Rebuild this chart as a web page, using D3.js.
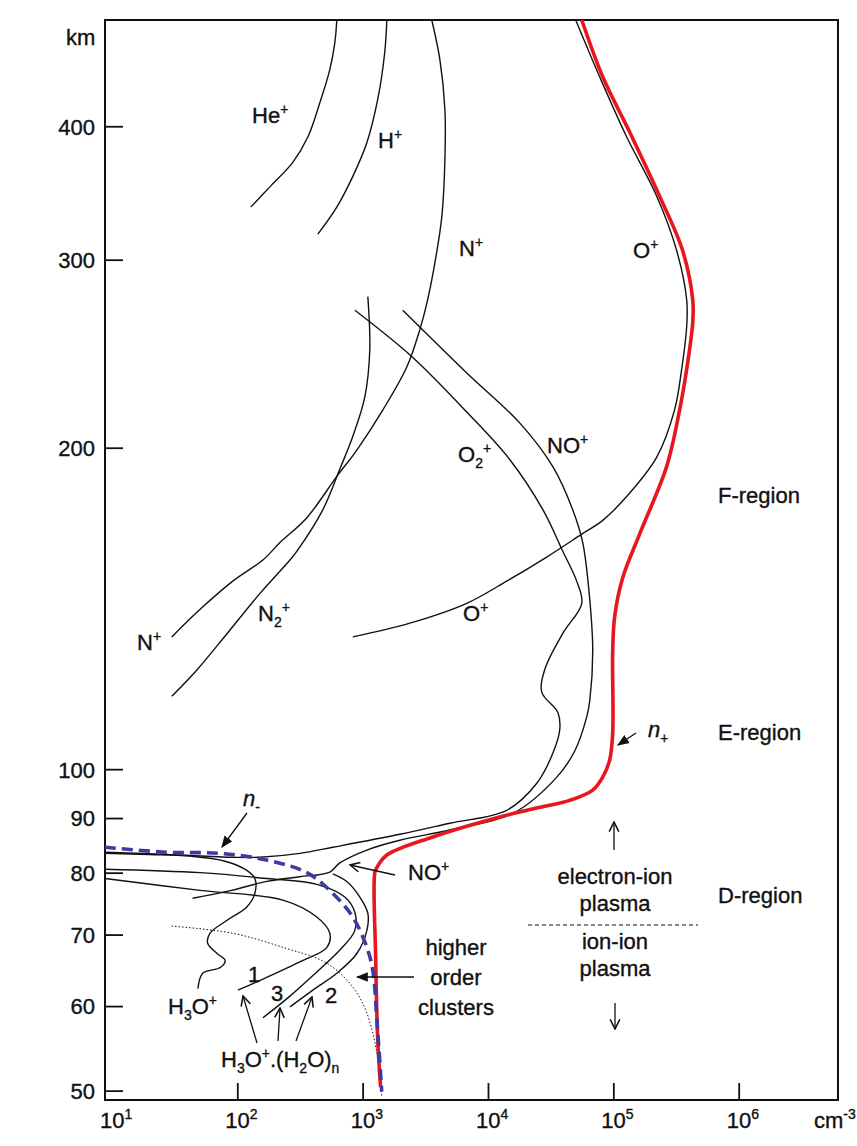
<!DOCTYPE html>
<html><head><meta charset="utf-8">
<script src="https://cdn.jsdelivr.net/npm/d3@7"></script>
<style>
html,body{margin:0;padding:0;background:#fff;}
svg text{font-family:"Liberation Sans",Arial,Helvetica,sans-serif;fill:#111;stroke:#111;stroke-width:0.35px;}
</style></head><body>
<svg id="chart" width="857" height="1146"></svg>
<script>
// Ion number density profiles: [density cm^-3, altitude km]
const heIon = [[622,503],[600,479],[547,452],[456,421],[366,391],[277,370],[182,351],[128,336]];
const hIon = [[1560,503],[1500,469],[1320,424],[1080,386],[835,359],[622,336],[439,317]];
const nIon = [[3560,503],[4130,462],[4530,415],[4530,372],[4280,329],[3770,298],[3250,273],[2860,258],[2250,238],[1450,217],[899,199],[622,188],[359,172],[219,163],[160,157],[92,150],[50,141],[30,133]];
const n2Ion = [[1100,277],[1140,247],[1040,223],[835,205],[658,191],[482,175],[299,160],[263,157],[151,146],[83,134],[48,124],[30,117]];
const oIon = [[50100,503],[77800,445],[127600,391],[222000,344],[320000,306],[385000,275],[385000,260],[351000,237],[308000,217],[222000,196],[127600,180],[82300,171],[56000,166],[29400,158],[14100,150],[6770,143],[2380,137],[835,133]];
const o2Ion = [[867,269],[2510,243],[6770,216],[14900,195],[27400,175],[39500,160],[51000,150],[56000,143],[39500,134],[28400,124],[26900,118],[36100,113],[37400,109],[32900,103.5],[24500,97.0],[14100,91.5],[4960,89.0],[1980,86.9],[578,84.5],[315,83.4],[151,82.7],[92,82.7],[27.5,83.2],[8.8,83.6]];
const noIon = [[2090,269],[6770,235],[17900,211],[32900,192],[47400,175],[57000,163],[64900,144],[68500,129],[64900,116],[61400,112],[49200,104],[35400,98.3],[15800,90.9],[4960,87.7],[1980,85.8],[1080,84.0],[658,81.7],[547,80.1],[315,79.3],[172,78.5],[90,77.0],[44,75.7]];
const h3oIon = [[48.5,62.3],[53,64.4],[73,65.2],[80,66.2],[69,67.2],[58,68.7],[60.5,70.2],[83,72.2],[119,74.3],[138,76.5],[138,79.0],[119,80.4],[80,82.0],[42,82.9],[20,83.2],[8.8,83.4]];
const cluster1 = [[8.8,79.0],[50.4,77.0],[231,75.4],[431,72.7],[547,70.2],[519,68.1],[315,66.0],[151,63.4],[101,62.1]];
const cluster2 = [[263,59.9],[401,62.1],[622,64.4],[899,67.2],[1080,70.6],[1100,73.3],[950,75.9],[748,78.5],[578,79.8]];
const cluster3 = [[8.8,80.6],[50.4,80.0],[172,79.0],[431,78.0],[720,75.9],[865,73.5],[865,70.6],[658,67.7],[401,64.1],[263,61.3],[160,58.5]];
const higherClusters = [[30,71.3],[92,70.2],[231,68.1],[519,65.8],[835,62.5],[1080,59.1],[1300,54.2],[1420,49.3]];
const negIons = [[8.8,84.5],[27.5,83.6],[73,83.4],[172,82.2],[359,80.0],[578,76.5],[835,72.7],[1080,68.1],[1205,64.8],[1300,58.2],[1420,49.9]];
const posIons = [[56000,503],[82300,445],[135000,395],[234000,344],[357000,306],[430000,275],[430000,262],[385000,237],[338000,217],[266000,192],[162000,166],[118600,151],[102500,139],[98800,129],[98800,108],[93500,102],[82300,98.3],[68500,95.6],[44900,93.5],[25900,92.1],[12400,90.2],[3630,86.4],[1560,83.1],[1300,80.9],[1250,80.0],[1270,66.7],[1320,55.7],[1390,50.4]];

// Axes
const densityRange = [8.8, 6.2e6];
const altitudeRange = [49, 503];
const densityTicks = [1e2, 1e3, 1e4, 1e5, 1e6];
const densityTickExp = ["1", "2", "3", "4", "5", "6"];
const altitudeTicks = [50, 60, 70, 80, 90, 100, 200, 300, 400];

const FS = 22, FS_SMALL = 14;
const svg = d3.select("#chart");
const x = d3.scaleLog().domain(densityRange).range([105, 838]);
const y = d3.scaleLog().domain(altitudeRange).range([1100, 20]);

const line = d3.line().x(d => x(d[0])).y(d => y(d[1])).curve(d3.curveCatmullRom.alpha(0.5));

// markers
const defs = svg.append("defs");
defs.append("marker").attr("id","open").attr("viewBox","0 0 10 10").attr("refX",9).attr("refY",5)
  .attr("markerWidth",12).attr("markerHeight",12).attr("markerUnits","userSpaceOnUse").attr("orient","auto")
  .append("path").attr("d","M1,1 L9,5 L1,9").attr("fill","none").attr("stroke","#111").attr("stroke-width",1.3);
defs.append("marker").attr("id","solid").attr("viewBox","0 0 10 10").attr("refX",9).attr("refY",5)
  .attr("markerWidth",12).attr("markerHeight",12).attr("markerUnits","userSpaceOnUse").attr("orient","auto")
  .append("path").attr("d","M0,1 L10,5 L0,9 Z").attr("fill","#111");

// frame
svg.append("rect").attr("x", x(densityRange[0])).attr("y", y(altitudeRange[1]))
  .attr("width", x(densityRange[1]) - x(densityRange[0]))
  .attr("height", y(altitudeRange[0]) - y(altitudeRange[1]))
  .attr("fill","none").attr("stroke","#111").attr("stroke-width",2);

// left axis
const yAxis = d3.axisLeft(y).tickValues(altitudeTicks).tickSize(-18).tickPadding(10).tickFormat(d3.format("d"));
const gy = svg.append("g").attr("transform", `translate(${x(densityRange[0])},0)`).call(yAxis);
gy.select(".domain").remove();
gy.selectAll(".tick line").attr("stroke","#111").attr("stroke-width",1.8);
gy.selectAll(".tick text").attr("font-size",FS).attr("font-family","Liberation Sans, Arial, sans-serif").attr("fill","#111").attr("dy","0.36em");

svg.append("text").attr("x",66).attr("y",45).attr("font-size",FS).text("km");

// bottom axis
const xAxis = d3.axisBottom(x).tickValues(densityTicks).tickSize(-17).tickFormat("");
const gx = svg.append("g").attr("transform", `translate(0,${y(altitudeRange[0])})`).call(xAxis);
gx.select(".domain").remove();
gx.selectAll(".tick line").attr("stroke","#111").attr("stroke-width",1.8);

[1e1].concat(densityTicks).forEach((v, i) => {
  const t = svg.append("text").attr("x", x(v) - 12).attr("y", 1128).attr("font-size",FS);
  t.append("tspan").text("10");
  t.append("tspan").attr("font-size",FS_SMALL).attr("dy",-9).text(densityTickExp[i]);
});
{
  const t = svg.append("text").attr("x", 814).attr("y", 1128).attr("font-size",FS);
  t.append("tspan").text("cm");
  t.append("tspan").attr("font-size",FS_SMALL).attr("dy",-9).text("-3");
}

// curves
const plot = svg.append("g");
function curve(data, opts = {}) {
  plot.append("path").attr("d", line(data)).attr("fill","none")
    .attr("stroke", opts.color || "#111").attr("stroke-width", opts.width || 1.4)
    .attr("stroke-dasharray", opts.dash || null).attr("stroke-linecap", opts.cap || "butt");
}
[heIon, hIon, nIon, n2Ion, oIon, o2Ion, noIon, h3oIon, cluster1, cluster2, cluster3].forEach(d => curve(d));
curve(higherClusters, {width: 1, dash: "1.5,2"});
curve(posIons, {color: "#e8161e", width: 3.6});
curve(negIons, {color: "#3b3ba3", width: 3.6, dash: "11,6"});

// labels with sub/superscripts
function label(px, py, parts, opts = {}) {
  const t = svg.append("text").attr("x", px).attr("y", py).attr("font-size", FS)
    .attr("text-anchor", opts.anchor || "start");
  let shift = 0;
  parts.forEach(p => {
    const [s, kind] = Array.isArray(p) ? p : [p, "n"];
    const ts = t.append("tspan").text(s);
    let target = 0;
    if (kind === "sup") { ts.attr("font-size", FS_SMALL); target = -9; }
    else if (kind === "sub" || kind === "isub") { ts.attr("font-size", FS_SMALL); target = 6; }
    else if (kind === "i") { ts.attr("font-style","italic"); }
    ts.attr("dy", target - shift);
    shift = target;
  });
  return t;
}
label(252,123,["He",["+","sup"]]);
label(378,148,["H",["+","sup"]]);
label(459,256,["N",["+","sup"]]);
label(633,258,["O",["+","sup"]]);
label(547,453,["NO",["+","sup"]]);
label(458,462,["O",["2","sub"],["+","sup"]]);
label(463,621,["O",["+","sup"]]);
label(137,650,["N",["+","sup"]]);
label(258,621,["N",["2","sub"],["+","sup"]]);
label(718,503,["F-region"]);
label(718,740,["E-region"]);
label(718,903,["D-region"]);
label(648,737,[["n","i"],["+","isub"]]);
label(243,806,[["n","i"],["-","isub"]]);
label(408,880,["NO",["+","sup"]]);
label(456,955,["higher"],{anchor:"middle"});
label(456,985,["order"],{anchor:"middle"});
label(456,1015,["clusters"],{anchor:"middle"});
label(615,884,["electron-ion"],{anchor:"middle"});
label(615,911,["plasma"],{anchor:"middle"});
label(615,949,["ion-ion"],{anchor:"middle"});
label(615,976,["plasma"],{anchor:"middle"});
label(254,982,["1"],{anchor:"middle"});
label(277,1001,["3"],{anchor:"middle"});
label(331,1003,["2"],{anchor:"middle"});
label(168,1014,["H",["3","sub"],"O",["+","sup"]]);
label(221,1067,["H",["3","sub"],"O",["+","sup"],".(H",["2","sub"],"O)",["n","sub"]]);

// annotation arrows
function arrow(x1,y1,x2,y2,head){
  svg.append("line").attr("x1",x1).attr("y1",y1).attr("x2",x2).attr("y2",y2)
    .attr("stroke","#111").attr("stroke-width",1.3).attr("marker-end",`url(#${head})`);
}
arrow(636,733,618,745,"solid");
arrow(247,813,222,847,"solid");
arrow(395,875,350,865,"open");
arrow(414,977,357,977,"solid");
arrow(614,850,614,822,"open");
arrow(615,1003,615,1029,"open");
arrow(257,1043,243,996,"open");
arrow(278,1041,280,1008,"open");
arrow(296,1041,312,997,"open");

// plasma regime separator
svg.append("line").attr("x1",528).attr("x2",698).attr("y1",925).attr("y2",925)
  .attr("stroke","#111").attr("stroke-width",1.2).attr("stroke-dasharray","4,3");
</script>
</body></html>
